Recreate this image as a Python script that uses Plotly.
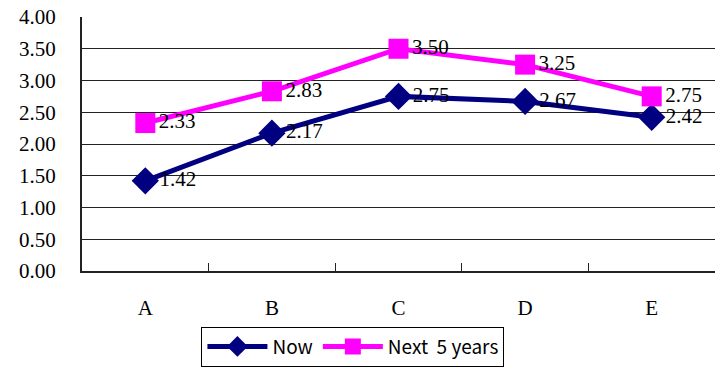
import plotly.graph_objects as go

categories = ["A", "B", "C", "D", "E"]
now_values = [1.42, 2.17, 2.75, 2.67, 2.42]
next5_values = [2.33, 2.83, 3.50, 3.25, 2.75]
y_ticks = [0, 0.5, 1, 1.5, 2, 2.5, 3, 3.5, 4]

serif = "Liberation Serif, Times New Roman, serif"
label_font = dict(family=serif, size=21, color="black")

fig = go.Figure()
fig.add_trace(go.Scatter(
    x=categories, y=now_values, name="Now",
    mode="lines+markers+text",
    line=dict(color="#000080", width=5),
    marker=dict(symbol="diamond", size=21, color="#000080"),
    text=[f"{v:.2f}" for v in now_values],
    textposition="middle right", textfont=label_font,
))
fig.add_trace(go.Scatter(
    x=categories, y=next5_values, name="Next  5 years",
    mode="lines+markers+text",
    line=dict(color="#FF00FF", width=5),
    marker=dict(symbol="square", size=20, color="#FF00FF"),
    text=[f"{v:.2f}" for v in next5_values],
    textposition="middle right", textfont=label_font,
))

fig.update_layout(
    width=715, height=368,
    margin=dict(l=82, r=0, t=17, b=97, autoexpand=False),
    paper_bgcolor="white", plot_bgcolor="white",
    showlegend=True,
    legend=dict(
        orientation="h", x=0.428, xanchor="center",
        yref="container", y=0.004, yanchor="bottom",
        bordercolor="black", borderwidth=1,
        font=dict(family="Noto Sans CJK JP, DejaVu Sans, sans-serif", size=19, color="black"),
        itemwidth=60, tracegroupgap=0,
    ),
    xaxis=dict(
        type="category", range=[-0.5, 4.5], automargin=False,
        showgrid=False, showline=True, linecolor="#222", linewidth=2,
        ticks="inside", ticklen=8, tickcolor="#222", tickson="boundaries",
        tickfont=dict(family=serif, size=21, color="black"),
        ticklabelstandoff=17,
    ),
    yaxis=dict(
        range=[0, 4], tickvals=y_ticks, automargin=False,
        ticktext=[f"{v:.2f}" for v in y_ticks],
        showgrid=True, gridcolor="#222", gridwidth=1,
        showline=True, linecolor="#222", linewidth=2,
        zeroline=False, ticks="",
        tickfont=dict(family=serif, size=21, color="black"),
        ticklabelstandoff=20,
    ),
)

fig.write_html("out.html")
